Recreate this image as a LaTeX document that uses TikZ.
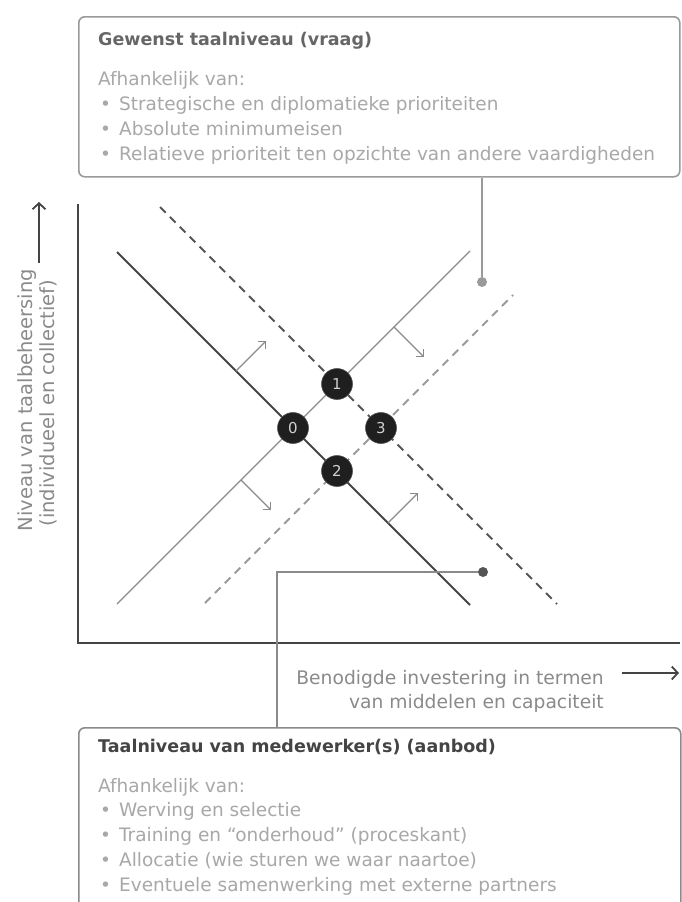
\documentclass[tikz,border=0pt]{standalone}
\usepackage{fontspec}
\setmainfont{DejaVu Sans}
\usetikzlibrary{arrows.meta}
\definecolor{c22}{HTML}{1F1F1F}
\definecolor{c44}{HTML}{444444}
\definecolor{c55}{HTML}{555555}
\definecolor{c66}{HTML}{666666}
\definecolor{c88}{HTML}{8A8A8A}
\definecolor{c99}{HTML}{9A9A9A}
\definecolor{cAA}{HTML}{A8A8A8}
\definecolor{cDD}{HTML}{D0D0D0}
\tikzset{
  axisline/.style={draw=c44, line width=2.6pt},
  supply/.style={draw=c44, line width=2pt},
  demand/.style={draw=c88, line width=1.4pt},
  supplydash/.style={draw=c55, line width=2pt, dash pattern=on 8pt off 6pt},
  demanddash/.style={draw=c99, line width=1.8pt, dash pattern=on 8pt off 6pt},
  shiftarrow/.style={draw=c88, line width=1.1pt, -{Straight Barb[length=5pt,width=10pt]}},
  axarrow/.style={draw=c44, line width=1.8pt, -{Straight Barb[length=6pt,width=13pt]}},
  numdot/.style={circle, fill=c22, draw=c55, line width=0.6pt, minimum size=31pt, inner sep=0pt,
    text=cDD, font=\fontsize{15}{15}\selectfont},
  infobox/.style={draw=c99, rounded corners=6pt, line width=1.6pt, fill=white, inner sep=0pt},
  bodytext/.style={text=cAA, font=\fontsize{18.5}{22}\selectfont, inner sep=0pt, anchor=base west},
  titletext/.style={text=c66, font=\fontsize{17.5}{22}\selectfont\bfseries, inner sep=0pt, anchor=base west},
  axtext/.style={text=c88, font=\fontsize{18.7}{22}\selectfont, inner sep=0pt},
  pindot/.style={circle, inner sep=0pt, minimum size=10pt}
}
\begin{document}
\begin{tikzpicture}[x=1pt,y=-1pt]
\useasboundingbox (0,0) rectangle (681,902);

% info boxes
\node[infobox, anchor=north west, minimum width=601pt, minimum height=160pt] (topbox) at (78,16) {};
\node[infobox, draw=c88, anchor=north west, minimum width=602pt, minimum height=200pt] (botbox) at (78,727) {};

% top box text
\node[titletext] (t0) at (98,45) {Gewenst taalniveau (vraag)};
\node[bodytext] (t1) at (98,85) {Afhankelijk van:};
\node[bodytext] (t2) at (100,110) {•\hspace{8pt}Strategische en diplomatieke prioriteiten};
\node[bodytext] (t3) at (100,135) {•\hspace{8pt}Absolute minimumeisen};
\node[bodytext] (t4) at (100,160) {•\hspace{8pt}Relatieve prioriteit ten opzichte van andere vaardigheden};

% bottom box text
\node[titletext, text=c44] (b0) at (98,752) {Taalniveau van medewerker(s) (aanbod)};
\node[bodytext] (b1) at (98,792) {Afhankelijk van:};
\node[bodytext] (b2) at (100,816) {•\hspace{8pt}Werving en selectie};
\node[bodytext] (b3) at (100,841) {•\hspace{8pt}Training en “onderhoud” (proceskant)};
\node[bodytext] (b4) at (100,866) {•\hspace{8pt}Allocatie (wie sturen we waar naartoe)};
\node[bodytext] (b5) at (100,891) {•\hspace{8pt}Eventuele samenwerking met externe partners};

% axes
\coordinate (ytop) at (78,204);
\coordinate (orig) at (78,643);
\coordinate (xend) at (680,643);
\draw[axisline] (ytop) -- (orig) -- (xend);

% axis labels
\node[axtext, font=\fontsize{19.5}{22}\selectfont, rotate=90, anchor=base] (yl1) at (32,400) {Niveau van taalbeheersing};
\node[axtext, font=\fontsize{19.5}{22}\selectfont, rotate=90, anchor=base] (yl2) at (54,403) {(individueel en collectief)};
\coordinate (ya0) at (39,263);
\coordinate (ya1) at (39,202);
\draw[axarrow] (ya0) -- (ya1);

\node[axtext, anchor=base east] (xl1) at (604,684) {Benodigde investering in termen};
\node[axtext, anchor=base east] (xl2) at (604,708) {van middelen en capaciteit};
\coordinate (xa0) at (622,673);
\coordinate (xa1) at (679,673);
\draw[axarrow] (xa0) -- (xa1);

% curves
\coordinate (s0) at (117,252);  \coordinate (s1) at (470,605);
\coordinate (d0) at (117,604);  \coordinate (d1) at (470,251);
\coordinate (sd0) at (160,207); \coordinate (sd1) at (557,604);
\coordinate (dd0) at (205,603); \coordinate (dd1) at (513,295);
\draw[demand] (d0) -- (d1);
\draw[demanddash] (dd0) -- (dd1);
\draw[supplydash] (sd0) -- (sd1);
\draw[supply] (s0) -- (s1);

% shift arrows
\coordinate (a1s) at (236,371); \coordinate (a1e) at (266,341);
\coordinate (a2s) at (394,327); \coordinate (a2e) at (424,357);
\coordinate (a3s) at (241,480); \coordinate (a3e) at (271,510);
\coordinate (a4s) at (388,523); \coordinate (a4e) at (418,493);
\draw[shiftarrow] (a1s) -- (a1e);
\draw[shiftarrow] (a2s) -- (a2e);
\draw[shiftarrow] (a3s) -- (a3e);
\draw[shiftarrow] (a4s) -- (a4e);

% connectors with pins
\node[pindot, fill=c99] (topdot) at (482,282) {};
\node[pindot, fill=c55] (botdot) at (483,572) {};
\draw[draw=c99, line width=1.5pt] (topbox.south -| topdot) -- (topdot);
\coordinate (bend) at (277,572);
\draw[draw=c88, line width=1.8pt] (botdot) -- (bend) -- (bend |- botbox.north);

% equilibrium points
\node[numdot] (n0) at (293,428) {0};
\node[numdot] (n1) at (337,384) {1};
\node[numdot] (n2) at (337,471) {2};
\node[numdot] (n3) at (381,428) {3};
\end{tikzpicture}
\end{document}
